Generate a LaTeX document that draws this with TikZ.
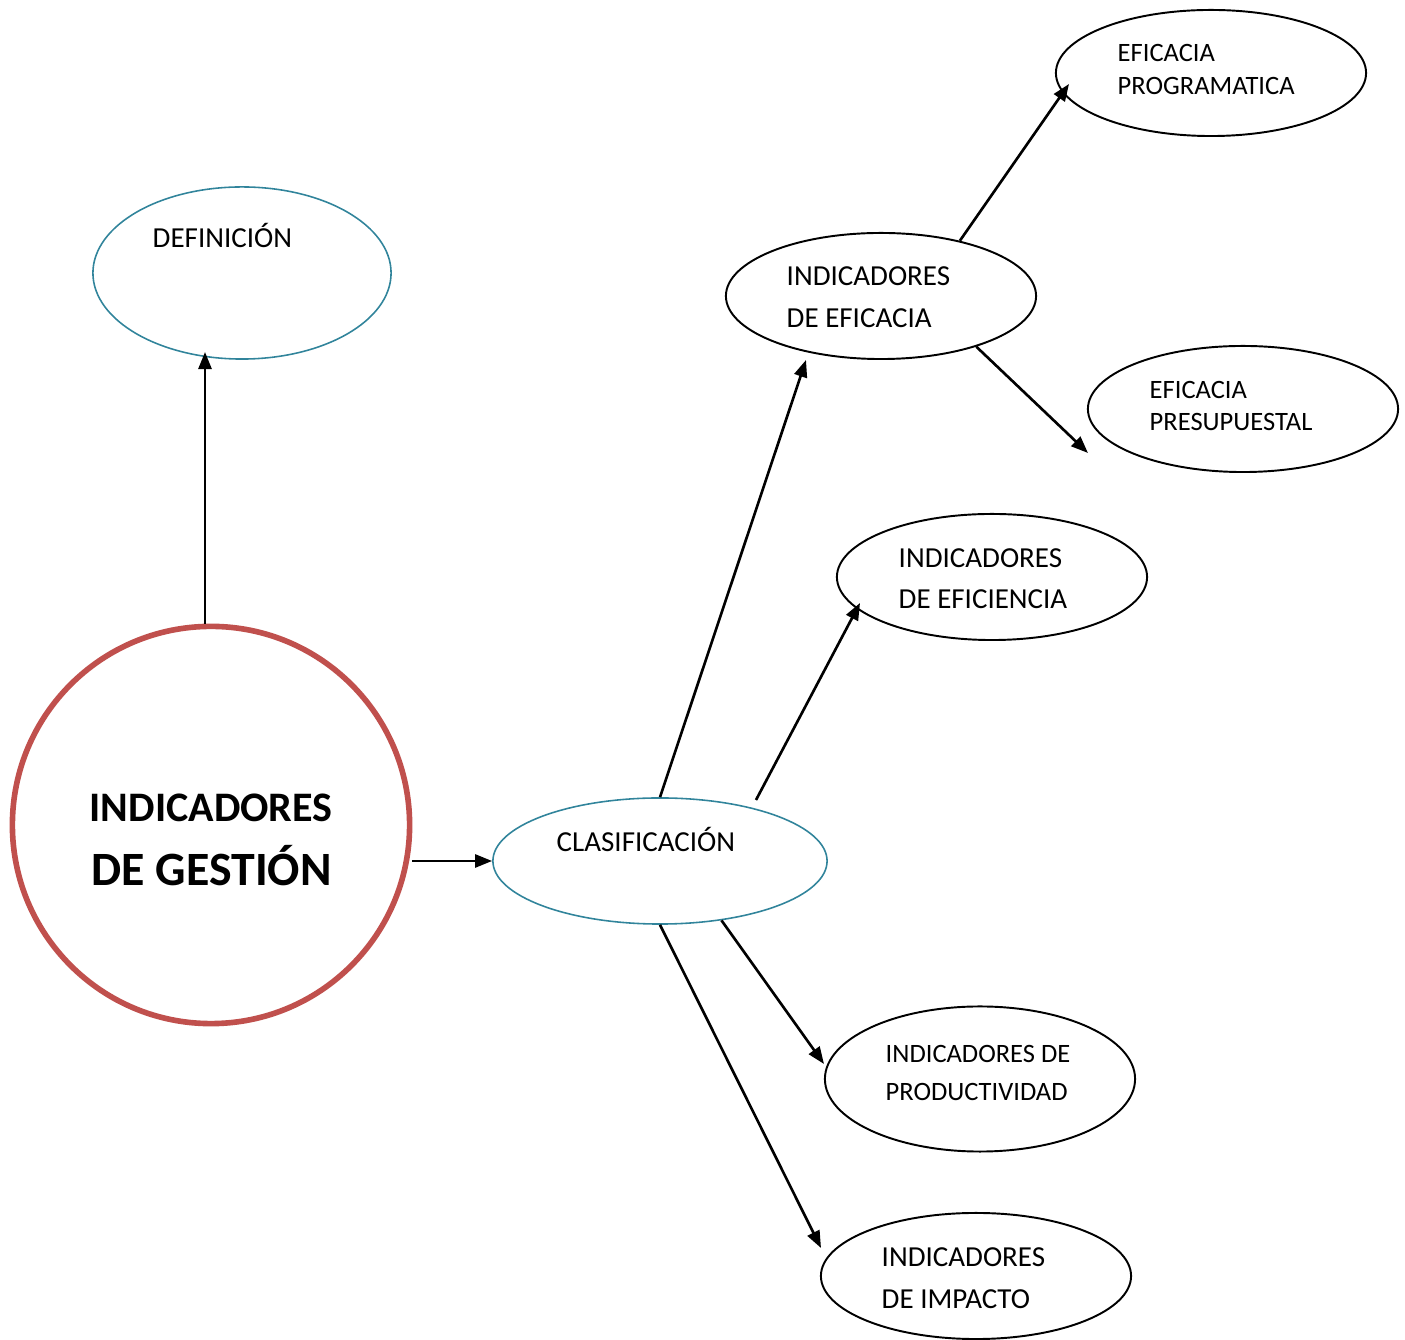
\documentclass[tikz,border=0pt]{standalone}
\usepackage{fontspec}
\setmainfont{Carlito}
\usetikzlibrary{shapes.geometric,arrows.meta}
\definecolor{redc}{HTML}{C0504D}
\definecolor{tealc}{HTML}{31849B}
\begin{document}
\begin{tikzpicture}[x=0.01cm,y=-0.01cm,
  ellb/.style={ellipse,draw=black,line width=0.55pt,inner sep=0pt,minimum width=3.1cm,minimum height=1.26cm},
  ellt/.style={ellipse,draw=tealc,line width=0.45pt,inner sep=0pt},
  txt/.style={anchor=base west,inner sep=0pt,font=\fontsize{8.25}{10}\selectfont},
  txts/.style={anchor=base west,inner sep=0pt,font=\fontsize{7.54}{9}\selectfont},
  txtb/.style={anchor=base west,inner sep=0pt,font=\fontsize{11.95}{14}\selectfont\bfseries},
  txtbb/.style={anchor=base west,inner sep=0pt,font=\fontsize{13.6}{16}\selectfont\bfseries},
  arr/.style={line width=0.75pt,-{Triangle[length=0.17cm,width=0.13cm]}}]
\useasboundingbox (0,0) rectangle (1405,1340);

% shapes
\node[circle,draw=redc,line width=1.6pt,minimum size=3.97cm,inner sep=0pt] (gest) at (211,825) {};
\node[ellt,minimum width=2.98cm,minimum height=1.72cm] (def) at (242,273) {};
\node[ellt,minimum width=3.34cm,minimum height=1.26cm] (clas) at (660,861) {};
\node[ellb] (efa) at (881,296) {};
\node[ellb] (prog) at (1211,73) {};
\node[ellb] (pres) at (1243,409) {};
\node[ellb] (efi) at (992,577) {};
\node[ellb,minimum height=1.45cm] (prod) at (980,1079) {};
\node[ellb] (imp) at (976,1276) {};

% texts
\node[txtb] (g1) at (89,822) {INDICADORES};
\node[txtbb] (g2) at (91,886) {DE GESTIÓN};
\node[txt] (d1) at (152,248) {DEFINICIÓN};
\node[txt] (c1) at (556,852) {CLASIFICACIÓN};
\node[txt] (a1) at (786,286) {INDICADORES};
\node[txt] (a2) at (786,328) {DE EFICACIA};
\node[txts] (p1) at (1117,61.5) {EFICACIA};
\node[txts] (p2) at (1117,94.5) {PROGRAMATICA};
\node[txts] (s1) at (1149,398.5) {EFICACIA};
\node[txts] (s2) at (1149,430.5) {PRESUPUESTAL};
\node[txt] (e1) at (898,568) {INDICADORES};
\node[txt] (e2) at (898,609) {DE EFICIENCIA};
\node[txts] (r1) at (885,1062.5) {INDICADORES DE};
\node[txts] (r2) at (885,1100.5) {PRODUCTIVIDAD};
\node[txt] (i1) at (881,1267) {INDICADORES};
\node[txt] (i2) at (881,1309) {DE IMPACTO};

% arrow end points
\coordinate (tdef) at (205,352);
\coordinate (tefa) at (806,360);
\coordinate (sefi) at (756,800);
\coordinate (tefi) at (860,603);
\coordinate (tprog) at (1069,84);
\coordinate (tpres) at (1088,453);
\coordinate (tprod) at (824,1064);
\coordinate (timp) at (821,1248);

% connectors
\draw[arr] (gest.north -| tdef) -- (tdef);
\draw[arr] (gest.east |- clas.west) -- (clas.west);
\draw[arr] (clas.north) -- (tefa);
\draw[arr] (sefi) -- (tefi);
\draw[arr] (efa.35) -- (tprog);
\draw[arr] (efa.-28.5) -- (tpres);
\draw[arr] (clas.-44) -- (tprod);
\draw[arr] (clas.south) -- (timp);
\end{tikzpicture}
\end{document}
